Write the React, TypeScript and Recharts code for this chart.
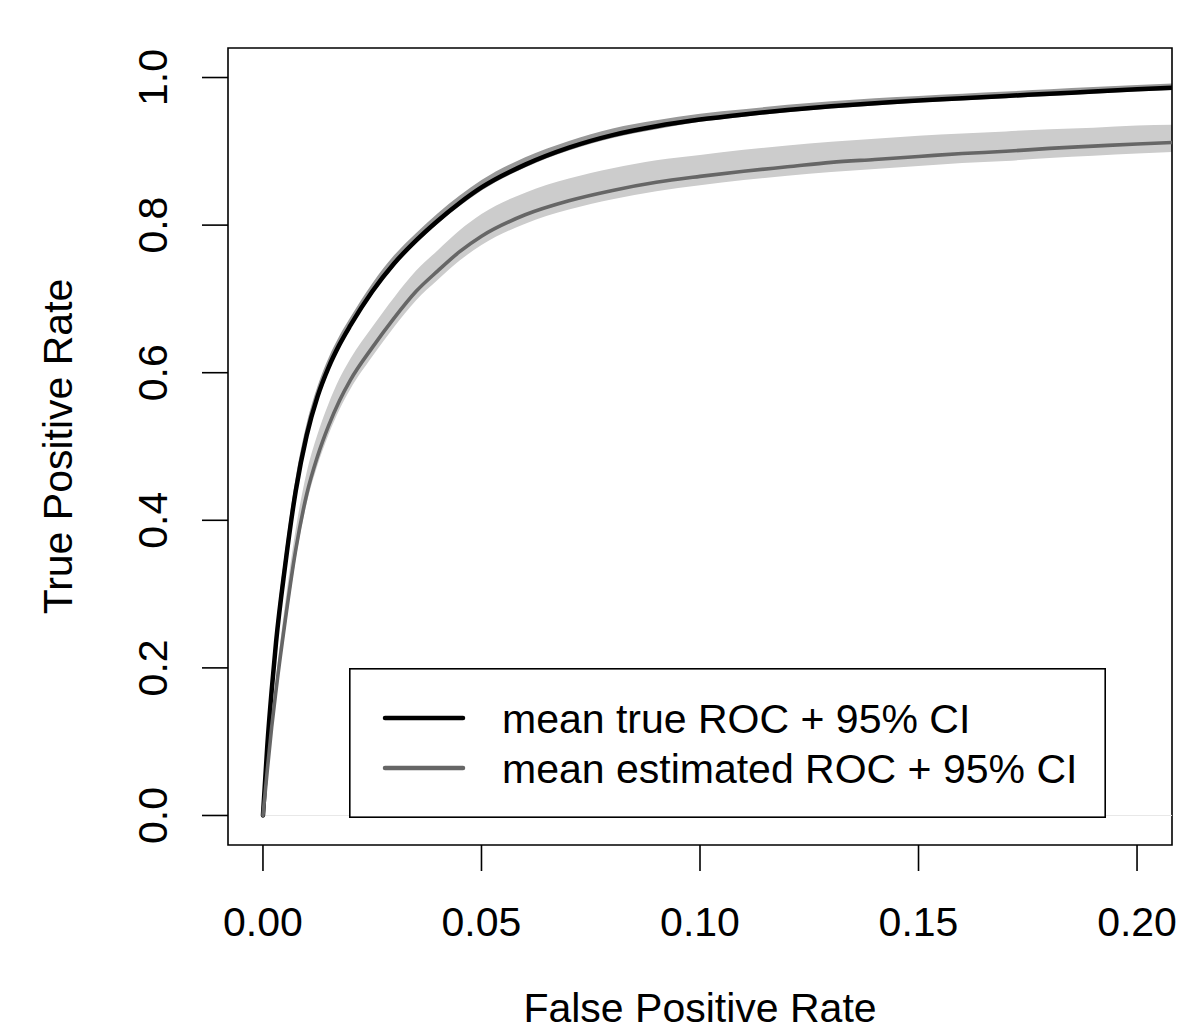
import React from 'react';
import {
  ComposedChart,
  Line,
  Area,
  XAxis,
  YAxis,
  Label,
  Legend,
  ReferenceArea,
  ReferenceLine
} from 'recharts';

// false positive rate grid and the curves
const fpr = [
  0, 0.001, 0.002, 0.003, 0.005, 0.0075, 0.01, 0.0125, 0.015, 0.0175, 0.02, 0.025, 0.03, 0.035,
  0.04, 0.045, 0.05, 0.06, 0.07, 0.08, 0.09, 0.1, 0.11, 0.12, 0.13, 0.14, 0.15, 0.16, 0.17, 0.18,
  0.19, 0.2, 0.208
];

const trueMean = [
  0, 0.095, 0.17, 0.235, 0.335, 0.44, 0.515, 0.568, 0.607, 0.638, 0.664, 0.71, 0.748, 0.779, 0.806,
  0.83, 0.851, 0.882, 0.905, 0.922, 0.934, 0.943, 0.95, 0.956, 0.961, 0.965, 0.969, 0.972, 0.975,
  0.978, 0.981, 0.984, 0.986
];
const trueLower = [
  0, 0.09, 0.165, 0.23, 0.33, 0.435, 0.511, 0.564, 0.603, 0.634, 0.66, 0.706, 0.744, 0.775, 0.802,
  0.826, 0.847, 0.878, 0.901, 0.918, 0.93, 0.94, 0.947, 0.953, 0.958, 0.962, 0.966, 0.969, 0.972,
  0.975, 0.978, 0.981, 0.983
];
const trueUpper = [
  0, 0.112, 0.19, 0.255, 0.355, 0.458, 0.531, 0.582, 0.62, 0.65, 0.675, 0.721, 0.759, 0.789,
  0.816, 0.84, 0.861, 0.892, 0.914, 0.931, 0.942, 0.951, 0.957, 0.963, 0.968, 0.972, 0.975, 0.978,
  0.981, 0.984, 0.987, 0.99, 0.992
];

const estMean = [
  0, 0.062, 0.12, 0.17, 0.26, 0.36, 0.435, 0.487, 0.528, 0.562, 0.59, 0.634, 0.674, 0.71, 0.738,
  0.764, 0.785, 0.814, 0.833, 0.847, 0.858, 0.866, 0.873, 0.879, 0.885, 0.889, 0.893, 0.897, 0.9,
  0.904, 0.907, 0.91, 0.912
];
const estLower = [
  0, 0.056, 0.112, 0.16, 0.248, 0.348, 0.423, 0.475, 0.516, 0.55, 0.578, 0.622, 0.662, 0.698,
  0.726, 0.752, 0.773, 0.802, 0.821, 0.835, 0.846, 0.854, 0.861, 0.867, 0.872, 0.876, 0.88, 0.884,
  0.887, 0.891, 0.894, 0.897, 0.899
];
const estUpper = [
  0, 0.072, 0.134, 0.188, 0.284, 0.388, 0.465, 0.517, 0.558, 0.592, 0.619, 0.662, 0.702, 0.738,
  0.766, 0.793, 0.815, 0.844, 0.863, 0.877, 0.888, 0.895, 0.902, 0.908, 0.913, 0.917, 0.921, 0.924,
  0.927, 0.93, 0.932, 0.935, 0.936
];

const xTicks = [0, 0.05, 0.1, 0.15, 0.2];
const yTicks = [0, 0.2, 0.4, 0.6, 0.8, 1];
const legendKeys = ['trueRoc', 'estRoc'];

const data = fpr.map((x, i) => ({
  fpr: x,
  trueRoc: trueMean[i],
  trueBand: [trueLower[i], trueUpper[i]],
  estRoc: estMean[i],
  estBand: [estLower[i], estUpper[i]]
}));

const FONT = '"Liberation Sans", Arial, Helvetica, sans-serif';
const FONT_SIZE = 41;

const XTick = ({ x, y, payload }: any) => (
  <text x={x} y={y} textAnchor="middle" fontFamily={FONT} fontSize={FONT_SIZE} fill="#000">
    {Number(payload.value).toFixed(2)}
  </text>
);

const YTick = ({ x, y, payload }: any) => (
  <text
    x={x}
    y={y}
    transform={`rotate(-90 ${x} ${y})`}
    textAnchor="middle"
    fontFamily={FONT}
    fontSize={FONT_SIZE}
    fill="#000"
  >
    {Number(payload.value).toFixed(1)}
  </text>
);

const RocLegend = ({ payload }: any) => {
  // only the two mean curves go in the legend, true one first
  const entries = legendKeys
    .map((key) => (payload ?? []).find((p: any) => p.dataKey === key))
    .filter(Boolean);
  return (
    <svg width={757} height={150} style={{ display: 'block' }}>
      <rect x={0.8} y={0.8} width={755.4} height={148.4} fill="#fff" stroke="#000" strokeWidth={1.6} />
      {entries.map((entry: any, i: number) => (
        <g key={`legend-${i}`}>
          <line
            x1={36}
            x2={114}
            y1={50 + i * 50}
            y2={50 + i * 50}
            stroke={entry.color}
            strokeWidth={4.5}
            strokeLinecap="round"
          />
          <text x={153} y={65 + i * 50} fontFamily={FONT} fontSize={FONT_SIZE} fill="#000">
            {entry.value}
          </text>
        </g>
      ))}
    </svg>
  );
};

const App = () => (
  <div style={{ position: 'absolute', left: 0, top: 0, width: 1182, height: 1036, background: '#fff' }}>
    <ComposedChart
      width={1182}
      height={1036}
      data={data}
      margin={{ top: 48, right: 10, bottom: 0, left: 0 }}
    >
      <XAxis
        type="number"
        dataKey="fpr"
        domain={[-0.008, 0.208]}
        ticks={xTicks}
        interval={0}
        allowDataOverflow
        height={191}
        axisLine={false}
        tickLine={{ stroke: '#000', strokeWidth: 1.6 }}
        tickSize={26}
        tickMargin={65}
        tick={<XTick />}
      >
        <Label
          content={({ viewBox }: any) => (
            <text
              x={viewBox.x + viewBox.width / 2}
              y={viewBox.y + 177}
              textAnchor="middle"
              fontFamily={FONT}
              fontSize={FONT_SIZE}
              fill="#000"
            >
              False Positive Rate
            </text>
          )}
        />
      </XAxis>
      <YAxis
        type="number"
        domain={[-0.04, 1.04]}
        ticks={yTicks}
        interval={0}
        allowDataOverflow
        width={228}
        axisLine={false}
        tickLine={{ stroke: '#000', strokeWidth: 1.6 }}
        tickSize={26}
        tickMargin={35}
        tick={<YTick />}
      >
        <Label
          content={({ viewBox }: any) => {
            const cx = viewBox.x + 72;
            const cy = viewBox.y + viewBox.height / 2;
            return (
              <text
                x={cx}
                y={cy}
                transform={`rotate(-90 ${cx} ${cy})`}
                textAnchor="middle"
                fontFamily={FONT}
                fontSize={FONT_SIZE}
                fill="#000"
              >
                True Positive Rate
              </text>
            );
          }}
        />
      </YAxis>

      <ReferenceLine
        segment={[{ x: 0, y: 0 }, { x: 0.208, y: 0 }]}
        stroke="#e8e8e8"
        strokeWidth={1}
      />

      <Area
        type="monotone"
        dataKey="estBand"
        fill="#cccccc"
        fillOpacity={1}
        stroke="none"
        legendType="none"
        isAnimationActive={false}
      />
      <Area
        type="monotone"
        dataKey="trueBand"
        fill="#999999"
        fillOpacity={1}
        stroke="none"
        legendType="none"
        isAnimationActive={false}
      />
      <Line
        type="monotone"
        dataKey="trueRoc"
        name="mean true ROC + 95% CI"
        stroke="#000000"
        strokeWidth={4.5}
        strokeLinecap="round"
        dot={false}
        activeDot={false}
        isAnimationActive={false}
      />
      <Line
        type="monotone"
        dataKey="estRoc"
        name="mean estimated ROC + 95% CI"
        stroke="#666666"
        strokeWidth={3.6}
        strokeLinecap="round"
        dot={false}
        activeDot={false}
        isAnimationActive={false}
      />

      <ReferenceArea
        x1={-0.008}
        x2={0.208}
        y1={-0.04}
        y2={1.04}
        fill="none"
        stroke="#000"
        strokeWidth={1.6}
      />

      <Legend
        layout="horizontal"
        verticalAlign="middle"
        align="center"
        wrapperStyle={{ left: 349, top: 668, width: 757, height: 150 }}
        content={<RocLegend />}
      />
    </ComposedChart>
  </div>
);

export default App;
